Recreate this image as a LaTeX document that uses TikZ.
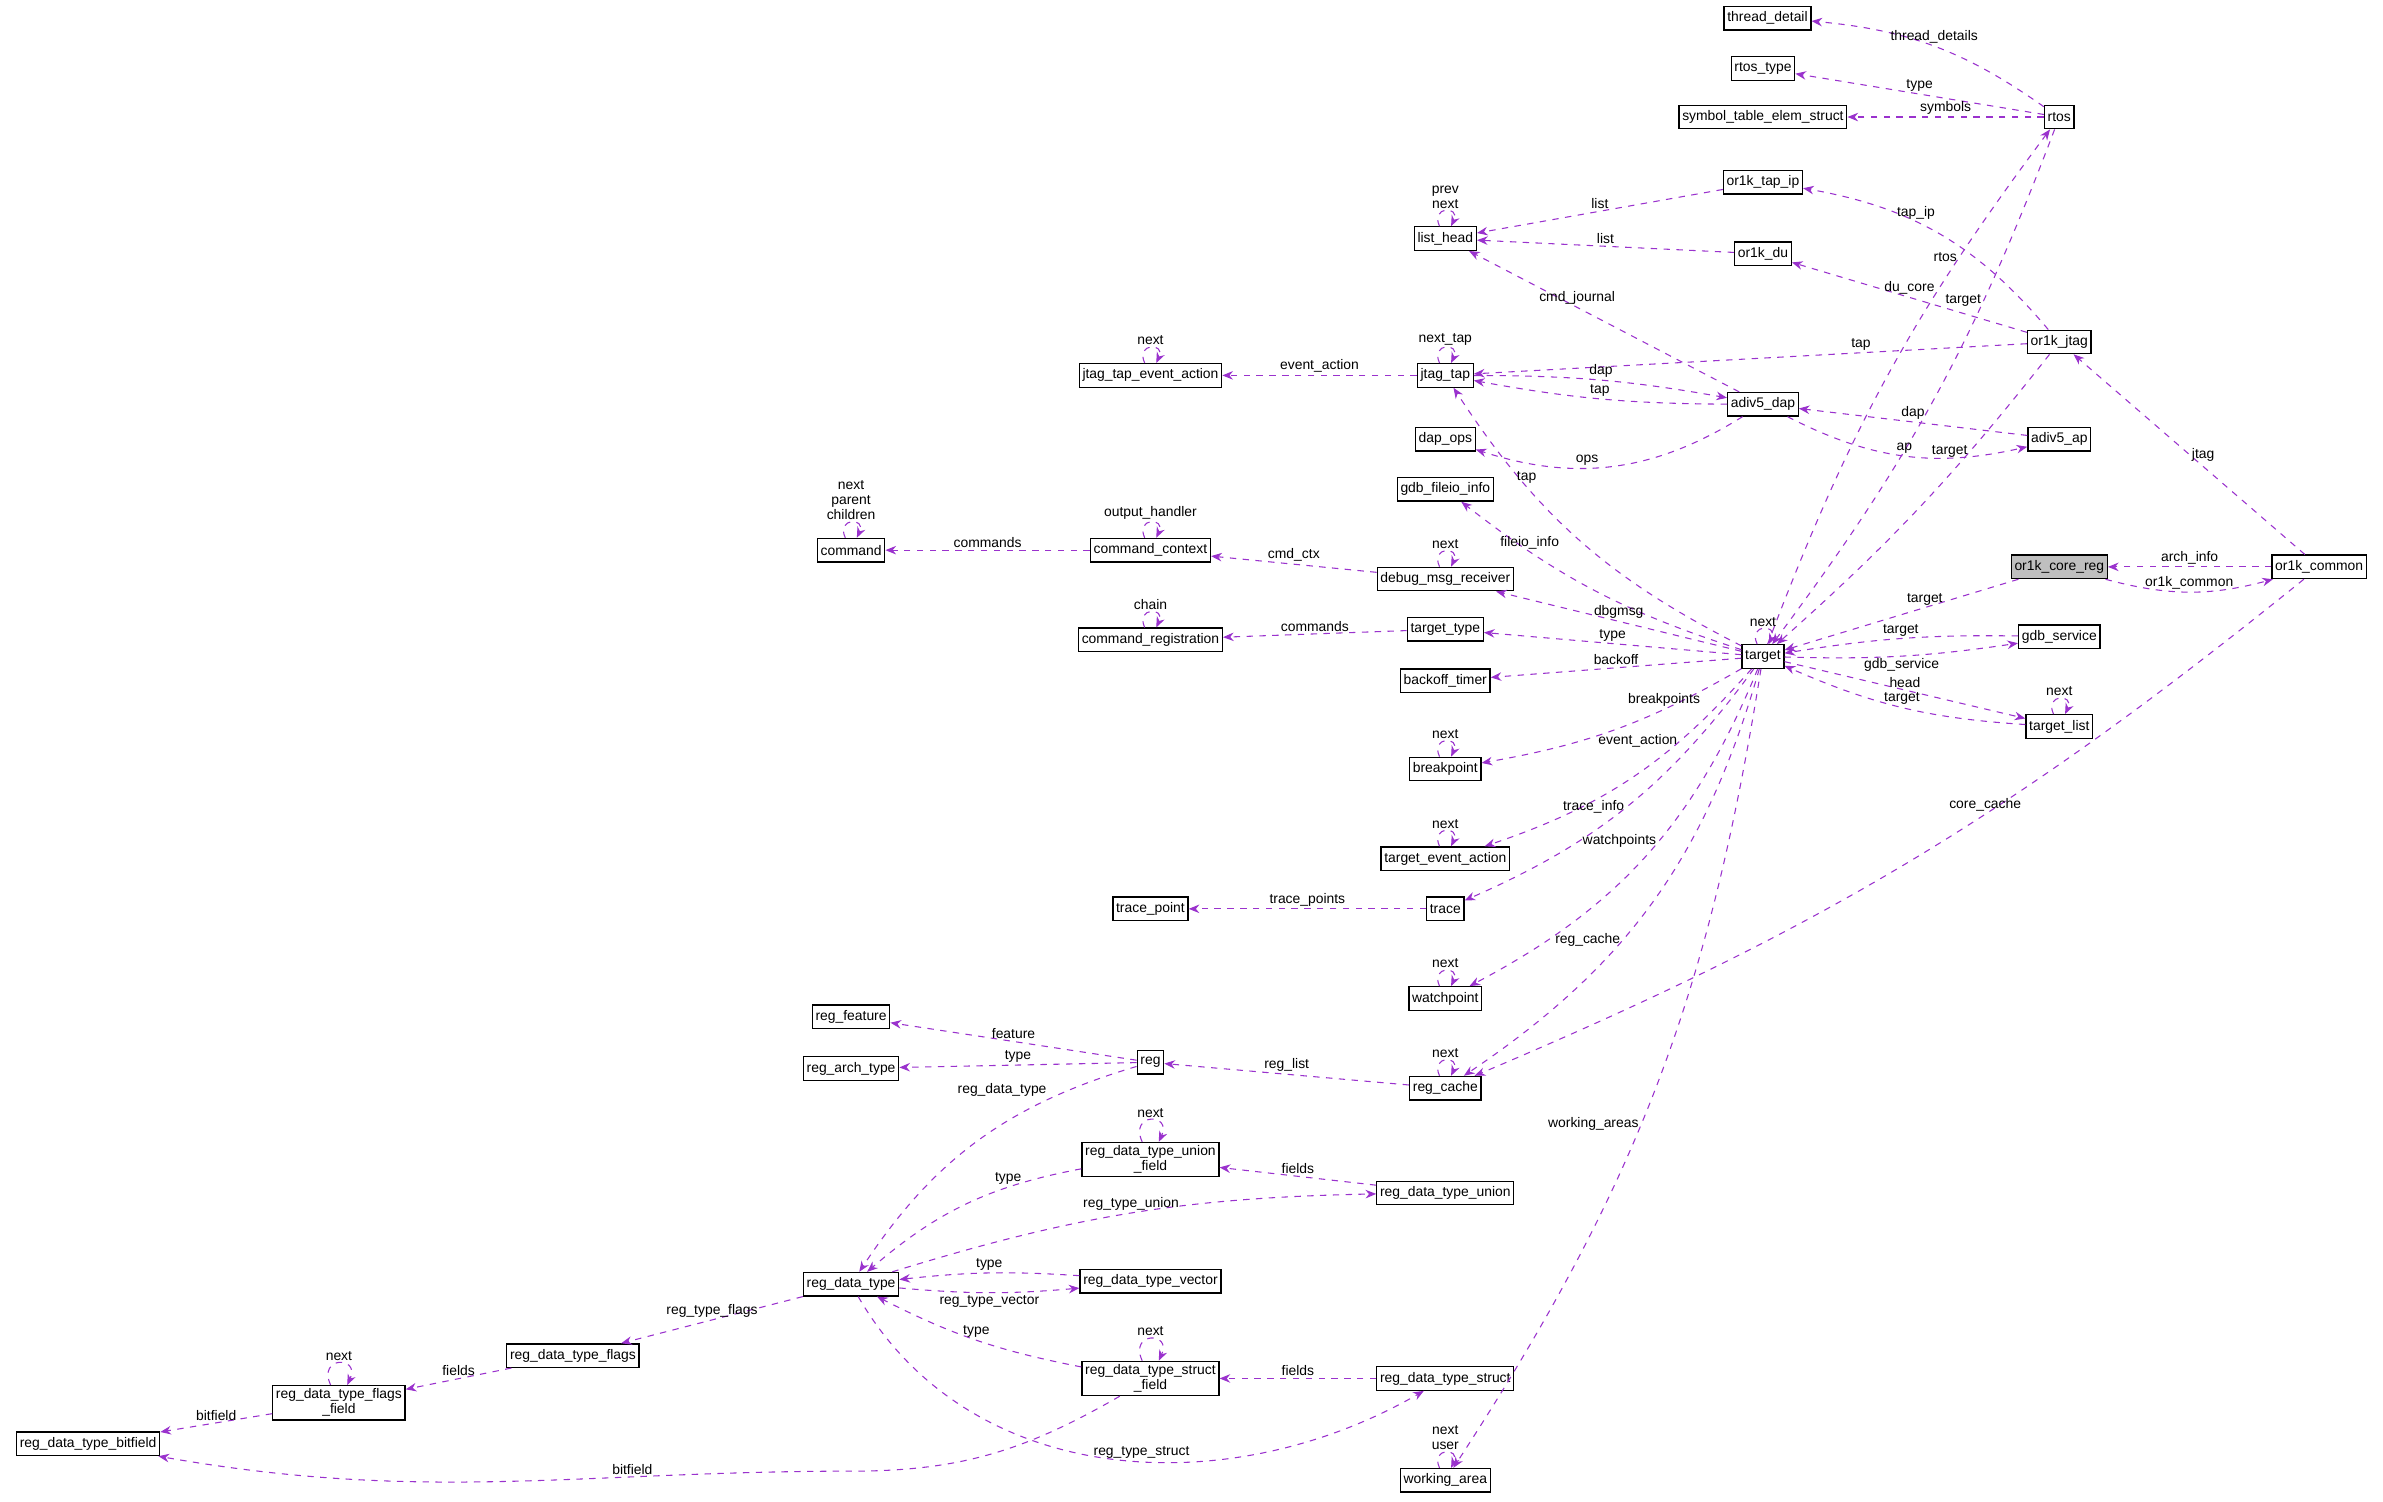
\documentclass[tikz,border=0pt]{standalone}
\usepackage{fontspec}
\setmainfont{Liberation Sans}
\usetikzlibrary{arrows.meta}
\definecolor{edgecol}{HTML}{9A32CD}
\tikzset{
  cls/.style={draw,fill=white,line width=0.6pt,inner sep=1.5pt,minimum height=11pt,font=\fontsize{6.5}{7}\selectfont,align=center},
  hl/.style={cls,fill=black!25},
  rel/.style={draw=edgecol,dashed,line width=0.5pt,-{Stealth[length=5pt,width=4pt]}},
  lbl/.style={font=\fontsize{6.5}{7}\selectfont,inner sep=1pt,align=center},
  selfloop/.style={rel,out=115,in=65,looseness=5},
}
\begin{document}
\begin{tikzpicture}[x=0.025cm,y=-0.025cm]
\useasboundingbox (0,0) rectangle (1568,988);
% classes
\node[cls] (thread_detail) at (1163,12) {thread\_detail};
\node[cls] (rtos_type) at (1160,45) {rtos\_type};
\node[cls] (symbol_table) at (1160,77) {symbol\_table\_elem\_struct};
\node[cls] (rtos) at (1355,77) {rtos};
\node[cls] (or1k_tap_ip) at (1160,120) {or1k\_tap\_ip};
\node[cls] (list_head) at (951,157) {list\_head};
\node[cls] (or1k_du) at (1160,167) {or1k\_du};
\node[cls] (or1k_jtag) at (1355,225) {or1k\_jtag};
\node[cls] (jtag_tap_event_action) at (757,247) {jtag\_tap\_event\_action};
\node[cls] (jtag_tap) at (951,247) {jtag\_tap};
\node[cls] (adiv5_dap) at (1160,266) {adiv5\_dap};
\node[cls] (adiv5_ap) at (1355,289) {adiv5\_ap};
\node[cls] (dap_ops) at (951,289) {dap\_ops};
\node[cls] (gdb_fileio_info) at (951,322) {gdb\_fileio\_info};
\node[cls] (command) at (560,362) {command};
\node[cls] (command_context) at (757,362) {command\_context};
\node[cls] (debug_msg_receiver) at (951,381) {debug\_msg\_receiver};
\node[hl] (or1k_core_reg) at (1355,373) {or1k\_core\_reg};
\node[cls] (or1k_common) at (1526,373) {or1k\_common};
\node[cls] (command_registration) at (757,421) {command\_registration};
\node[cls] (target_type) at (951,414) {target\_type};
\node[cls] (target) at (1160,432) {target};
\node[cls] (gdb_service) at (1355,419) {gdb\_service};
\node[cls] (backoff_timer) at (951,448) {backoff\_timer};
\node[cls] (target_list) at (1355,478) {target\_list};
\node[cls] (breakpoint) at (951,506) {breakpoint};
\node[cls] (target_event_action) at (951,565) {target\_event\_action};
\node[cls] (trace_point) at (757,598) {trace\_point};
\node[cls] (trace) at (951,598) {trace};
\node[cls] (watchpoint) at (951,657) {watchpoint};
\node[cls] (reg_feature) at (560,669) {reg\_feature};
\node[cls] (reg) at (757,699) {reg};
\node[cls] (reg_arch_type) at (560,703) {reg\_arch\_type};
\node[cls] (reg_cache) at (951,716) {reg\_cache};
\node[cls] (union_field) at (757,763) {reg\_data\_type\_union\\\_field};
\node[cls] (union) at (951,785) {reg\_data\_type\_union};
\node[cls] (reg_data_type) at (560,845) {reg\_data\_type};
\node[cls] (vector) at (757,843) {reg\_data\_type\_vector};
\node[cls] (flags) at (377,892) {reg\_data\_type\_flags};
\node[cls] (struct_field) at (757,907) {reg\_data\_type\_struct\\\_field};
\node[cls] (struct) at (951,907) {reg\_data\_type\_struct};
\node[cls] (flags_field) at (223,923) {reg\_data\_type\_flags\\\_field};
\node[cls] (bitfield) at (58,950) {reg\_data\_type\_bitfield};
\node[cls] (working_area) at (951,974) {working\_area};

% rtos
\draw[rel] (rtos) to[bend right=15] node[lbl,above]{thread\_details} (thread_detail);
\draw[rel] (rtos) -- node[lbl,above]{type} (rtos_type);
\draw[rel] (rtos) -- node[lbl,above]{symbols} (symbol_table);
\draw[rel] (rtos) to[bend left=8] node[lbl,pos=0.3,left]{target} (target);
\draw[rel] (target) to[bend left=8] node[lbl,pos=0.75,left]{rtos} (rtos);
% list_head
\draw[selfloop] (list_head) to node[lbl,above]{prev\\next} (list_head);
\draw[rel] (or1k_tap_ip) -- node[lbl,above]{list} (list_head);
\draw[rel] (or1k_du) -- node[lbl,above]{list} (list_head);
\draw[rel] (adiv5_dap) -- node[lbl,pos=0.6,above]{cmd\_journal} (list_head);
% or1k_jtag
\draw[rel] (or1k_jtag) to[bend right=20] node[lbl,pos=0.6,above]{tap\_ip} (or1k_tap_ip);
\draw[rel] (or1k_jtag) -- node[lbl,above]{du\_core} (or1k_du);
\draw[rel] (or1k_jtag) -- node[lbl,pos=0.3,above]{tap} (jtag_tap);
\draw[rel] (or1k_jtag) to[bend left=5] node[lbl,pos=0.3,left]{target} (target);
% jtag_tap
\draw[selfloop] (jtag_tap) to node[lbl,above]{next\_tap} (jtag_tap);
\draw[rel] (jtag_tap) -- node[lbl,above]{event\_action} (jtag_tap_event_action);
\draw[selfloop] (jtag_tap_event_action) to node[lbl,above]{next} (jtag_tap_event_action);
\draw[rel] (jtag_tap) to[bend left=5] node[lbl,above]{dap} (adiv5_dap);
\draw[rel] (adiv5_dap) to[bend left=5] node[lbl,above]{tap} (jtag_tap);
\draw[rel] (target) to[bend left=15] node[lbl,pos=0.7,above]{tap} (jtag_tap);
\draw[rel] (adiv5_ap) -- node[lbl,above]{dap} (adiv5_dap);
\draw[rel] (adiv5_dap) to[bend right=20] node[lbl,above]{ap} (adiv5_ap);
\draw[rel] (adiv5_dap) to[bend left=25] node[lbl,pos=0.6,above]{ops} (dap_ops);
\draw[rel] (target) to[bend left=10] node[lbl,pos=0.75,above]{fileio\_info} (gdb_fileio_info);
% commands
\draw[selfloop] (command) to node[lbl,above]{next\\parent\\children} (command);
\draw[rel] (command_context) -- node[lbl,above]{commands} (command);
\draw[selfloop] (command_context) to node[lbl,above]{output\_handler} (command_context);
\draw[rel] (debug_msg_receiver) -- node[lbl,above]{cmd\_ctx} (command_context);
\draw[selfloop] (debug_msg_receiver) to node[lbl,above]{next} (debug_msg_receiver);
\draw[rel] (target) -- node[lbl,above]{dbgmsg} (debug_msg_receiver);
% or1k
\draw[rel] (or1k_common) -- node[lbl,right]{jtag} (or1k_jtag);
\draw[rel] (or1k_common) -- node[lbl,above]{arch\_info} (or1k_core_reg);
\draw[rel] (or1k_core_reg) to[bend right=15] node[lbl,above]{or1k\_common} (or1k_common);
\draw[rel] (or1k_core_reg) -- node[lbl,above,pos=0.4]{target} (target);
\draw[rel] (or1k_common) to[bend left=8] node[lbl,pos=0.4,above]{core\_cache} (reg_cache);
% target
\draw[selfloop] (target) to node[lbl,above]{next} (target);
\draw[selfloop] (command_registration) to node[lbl,above]{chain} (command_registration);
\draw[rel] (target_type) -- node[lbl,above]{commands} (command_registration);
\draw[rel] (target) -- node[lbl,above]{type} (target_type);
\draw[rel] (gdb_service) to[bend right=5] node[lbl,above]{target} (target);
\draw[rel] (target) to[bend right=5] node[lbl,below]{gdb\_service} (gdb_service);
\draw[rel] (target) -- node[lbl,above]{head} (target_list);
\draw[rel] (target_list) to[bend left=10] node[lbl,above]{target} (target);
\draw[selfloop] (target_list) to node[lbl,above]{next} (target_list);
\draw[rel] (target) -- node[lbl,above]{backoff} (backoff_timer);
\draw[rel] (target) to[bend left=10] node[lbl,pos=0.3,above]{breakpoints} (breakpoint);
\draw[selfloop] (breakpoint) to node[lbl,above]{next} (breakpoint);
\draw[rel] (target) to[bend left=15] node[lbl,pos=0.3,left]{event\_action} (target_event_action);
\draw[selfloop] (target_event_action) to node[lbl,above]{next} (target_event_action);
\draw[rel] (target) to[bend left=15] node[lbl,pos=0.5,left]{trace\_info} (trace);
\draw[rel] (trace) -- node[lbl,above]{trace\_points} (trace_point);
\draw[rel] (target) to[bend left=20] node[lbl,pos=0.45,left]{watchpoints} (watchpoint);
\draw[selfloop] (watchpoint) to node[lbl,above]{next} (watchpoint);
\draw[rel] (target) to[bend left=20] node[lbl,pos=0.6,left]{reg\_cache} (reg_cache);
\draw[selfloop] (reg_cache) to node[lbl,above]{next} (reg_cache);
\draw[rel] (target) to[bend left=12] node[lbl,pos=0.55,left]{working\_areas} (working_area);
\draw[selfloop] (working_area) to node[lbl,above]{next\\user} (working_area);
% registers
\draw[rel] (reg_cache) -- node[lbl,above]{reg\_list} (reg);
\draw[rel] (reg) -- node[lbl,above]{feature} (reg_feature);
\draw[rel] (reg) -- node[lbl,above]{type} (reg_arch_type);
\draw[rel] (reg) to[bend right=20] node[lbl,pos=0.25,above left]{reg\_data\_type} (reg_data_type);
\draw[selfloop] (union_field) to node[lbl,above]{next} (union_field);
\draw[rel] (union_field) to[bend right=15] node[lbl,pos=0.3,above]{type} (reg_data_type);
\draw[rel] (union) -- node[lbl,above]{fields} (union_field);
\draw[rel] (reg_data_type) to[bend left=8] node[lbl,pos=0.5,above]{reg\_type\_union} (union);
\draw[rel] (vector) to[bend right=5] node[lbl,above]{type} (reg_data_type);
\draw[rel] (reg_data_type) to[bend right=5] node[lbl,below]{reg\_type\_vector} (vector);
\draw[rel] (reg_data_type) -- node[lbl,above]{reg\_type\_flags} (flags);
\draw[rel] (flags) -- node[lbl,above]{fields} (flags_field);
\draw[selfloop] (flags_field) to node[lbl,above]{next} (flags_field);
\draw[rel] (flags_field) -- node[lbl,above]{bitfield} (bitfield);
\draw[rel] (struct_field) to[out=-150,in=0] (560,968) to[out=180,in=-10] node[lbl,pos=0.3,above]{bitfield} (bitfield);
\draw[selfloop] (struct_field) to node[lbl,above]{next} (struct_field);
\draw[rel] (struct_field) to[bend left=8] node[lbl,above]{type} (reg_data_type);
\draw[rel] (struct) -- node[lbl,above]{fields} (struct_field);
\draw[rel] (reg_data_type) to[out=-60,in=-150] node[lbl,pos=0.55,above]{reg\_type\_struct} (struct);
\end{tikzpicture}
\end{document}
